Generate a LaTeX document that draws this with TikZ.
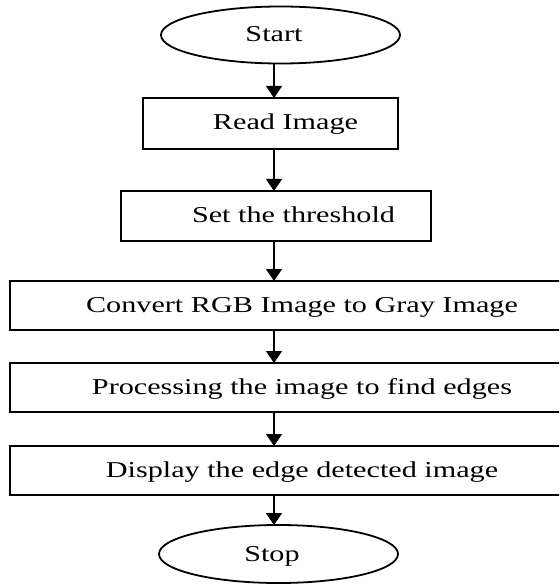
\documentclass[tikz,border=0pt]{standalone}
\usepackage{fontspec}
\setmainfont{Liberation Serif}
\usetikzlibrary{shapes.geometric,arrows.meta}
\newcommand\wideText[1]{\scalebox{1.33}[1]{#1}}
\begin{document}
\begin{tikzpicture}[x=1pt,y=-1pt,
  box/.style={draw=black,line width=1.8pt,minimum height=50pt,inner sep=0pt,outer sep=0pt},
  oval/.style={ellipse,draw=black,line width=1.8pt,minimum width=239pt,minimum height=57pt,inner sep=0pt,outer sep=0pt},
  lbl/.style={anchor=base,inner sep=0pt,font=\fontsize{22.7}{27}\selectfont},
  arr/.style={line width=1.5pt,-{Triangle[width=16pt,length=12pt]}}]
\useasboundingbox (0,0) rectangle (559,585);
\clip (0,0) rectangle (559,585);
\coordinate (ax) at (274,0);
\node[oval] (start) at (280.5,35) {};
\node[lbl] (tstart) at (274,41.8) {\wideText{Start}};
\node[box,minimum width=255pt,minimum height=51pt] (read) at (270.5,123.5) {};
\node[lbl] (tread) at (285.5,130) {\wideText{Read Image}};
\node[box,minimum width=310pt] (set) at (276,216) {};
\node[lbl] (tset) at (293.5,222.3) {\wideText{Set the threshold}};
\node[box,minimum width=552pt,minimum height=49pt] (conv) at (286,305.5) {};
\node[lbl] (tconv) at (302,312) {\wideText{Convert RGB Image to Gray Image}};
\node[box,minimum width=552pt,minimum height=49pt] (proc) at (286,387.5) {};
\node[lbl] (tproc) at (302,394) {\wideText{Processing the image to find edges}};
\node[box,minimum width=552pt,minimum height=49pt] (disp) at (286,470.5) {};
\node[lbl] (tdisp) at (302,477) {\wideText{Display the edge detected image}};
\node[oval,minimum height=58pt] (stop) at (278.5,554) {};
\node[lbl] (tstop) at (272,561) {\wideText{Stop}};
\draw[arr] (start.south -| ax) -- (read.north -| ax);
\draw[arr] (read.south -| ax) -- (set.north -| ax);
\draw[arr] (set.south -| ax) -- (conv.north -| ax);
\draw[arr] (conv.south -| ax) -- (proc.north -| ax);
\draw[arr] (proc.south -| ax) -- (disp.north -| ax);
\draw[arr] (disp.south -| ax) -- (stop.north -| ax);
\end{tikzpicture}
\end{document}
